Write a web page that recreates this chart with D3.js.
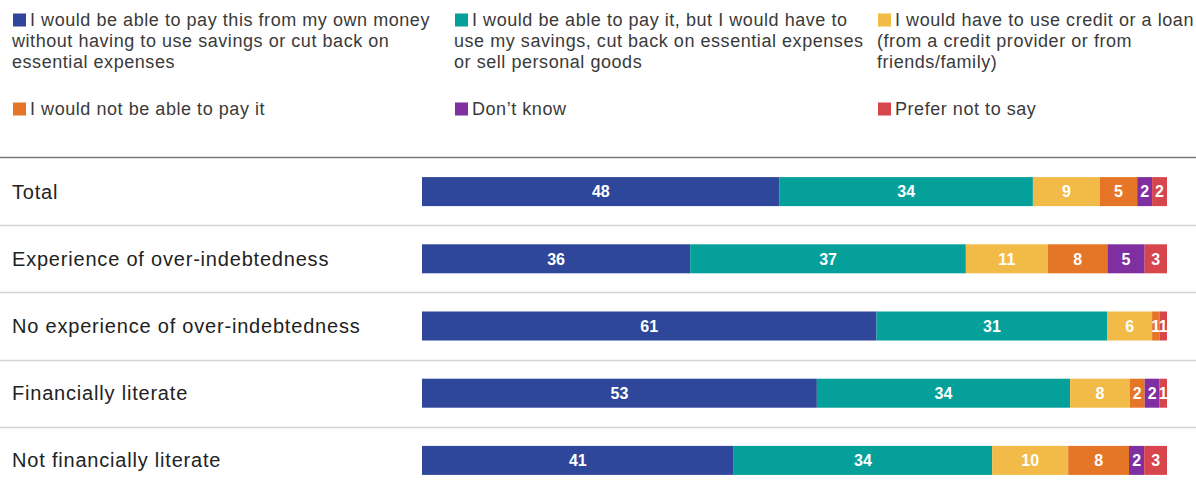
<!DOCTYPE html>
<head>
    <meta charset="utf-8">
    <script src="https://d3js.org/d3.v7.min.js"></script>
    <style>
        html, body { margin: 0; padding: 0; background: #fff; }
        svg { display: block; font-family: "Liberation Sans", Arial, sans-serif; }
    </style>
</head>
<body>
<svg width="1196" height="485"></svg>
<script>
    var categories = ["Total", "Experience of over-indebtedness", "No experience of over-indebtedness",
        "Financially literate", "Not financially literate"];
    var seriesNames = [
        "I would be able to pay this from my own money\nwithout having to use savings or cut back on\nessential expenses",
        "I would be able to pay it, but I would have to\nuse my savings, cut back on essential expenses\nor sell personal goods",
        "I would have to use credit or a loan\n(from a credit provider or from\nfriends/family)",
        "I would not be able to pay it",
        "Don\u2019t know",
        "Prefer not to say"
    ];
    var ownMoney   = [48, 36, 61, 53, 41];
    var savings    = [34, 37, 31, 34, 34];
    var credit     = [9, 11, 6, 8, 10];
    var cannotPay  = [5, 8, 1, 2, 8];
    var dontKnow   = [2, 5, 0, 2, 2];
    var preferNot  = [2, 3, 1, 1, 3];
    var colors = ["#2e479b", "#05a09a", "#f2bb47", "#e67627", "#7f2f9f", "#d8464d"];

    var series = [ownMoney, savings, credit, cannotPay, dontKnow, preferNot];
    var keys = seriesNames.map(function(d, i) { return "s" + i; });
    var rows = categories.map(function(c, r) {
        var o = {cat: c};
        series.forEach(function(s, i) { o[keys[i]] = s[r]; });
        return o;
    });

    var svg = d3.select("svg");

    // legend
    var legendPos = [[12, 20], [454, 20], [877, 20], [12, 109], [454, 109], [877, 109]];
    var legend = svg.append("g").selectAll("g")
        .data(seriesNames)
        .enter().append("g")
        .attr("transform", function(d, i) { return "translate(" + legendPos[i][0] + "," + legendPos[i][1] + ")"; });
    legend.append("rect")
        .attr("x", 1).attr("y", -6.5).attr("width", 13).attr("height", 13)
        .attr("fill", function(d, i) { return colors[i]; });
    legend.each(function(d) {
        var t = d3.select(this).append("text")
            .attr("fill", "#3a3a3a")
            .style("font-size", "18px")
            .style("letter-spacing", "0.55px");
        d.split("\n").forEach(function(line, j) {
            t.append("tspan")
                .attr("x", j === 0 ? 18 : 0)
                .attr("y", j * 21)
                .attr("dy", "0.35em")
                .text(line);
        });
    });

    // chart
    var y = d3.scaleBand().domain(categories).range([158, 494]).paddingInner(0).paddingOuter(0);
    var x = d3.scaleLinear().domain([0, 1]).range([422, 1167]);
    var barH = 29;

    svg.append("line")
        .attr("x1", 0).attr("x2", 1196).attr("y1", 157.5).attr("y2", 157.5)
        .attr("stroke", "#777").attr("stroke-width", 1.5);

    svg.selectAll(".sep")
        .data(categories.slice(1))
        .enter().append("line")
        .attr("x1", 0).attr("x2", 1196)
        .attr("y1", function(d) { return Math.round(y(d)) + 0.5; })
        .attr("y2", function(d) { return Math.round(y(d)) + 0.5; })
        .attr("stroke", "#d4d4d4").attr("stroke-width", 1.5);

    svg.selectAll(".cat")
        .data(categories)
        .enter().append("text")
        .attr("x", 12)
        .attr("y", function(d) { return y(d) + y.bandwidth() / 2; })
        .attr("dy", "0.35em")
        .attr("fill", "#222")
        .style("font-size", "20px")
        .style("letter-spacing", "0.8px")
        .text(function(d) { return d; });

    var stack = d3.stack().keys(keys).offset(d3.stackOffsetExpand)(rows);

    var layer = svg.selectAll(".layer")
        .data(stack)
        .enter().append("g")
        .attr("fill", function(d, i) { return colors[i]; });

    layer.selectAll("rect")
        .data(function(d) { return d; })
        .enter().append("rect")
        .attr("x", function(d) { return x(d[0]); })
        .attr("width", function(d) { return x(d[1]) - x(d[0]); })
        .attr("y", function(d) { return y(d.data.cat) + y.bandwidth() / 2 - barH / 2; })
        .attr("height", barH);

    layer.selectAll("text")
        .data(function(d) { return d.map(function(p) { return {p: p, key: d.key}; }); })
        .enter().append("text")
        .filter(function(d) { return d.p.data[d.key] > 0; })
        .attr("x", function(d) { return (x(d.p[0]) + x(d.p[1])) / 2; })
        .attr("y", function(d) { return y(d.p.data.cat) + y.bandwidth() / 2; })
        .attr("dy", "0.36em")
        .attr("text-anchor", "middle")
        .attr("fill", "#fff")
        .style("font-size", "16px")
        .style("font-weight", "bold")
        .text(function(d) { return d.p.data[d.key]; });
</script>
</body>
